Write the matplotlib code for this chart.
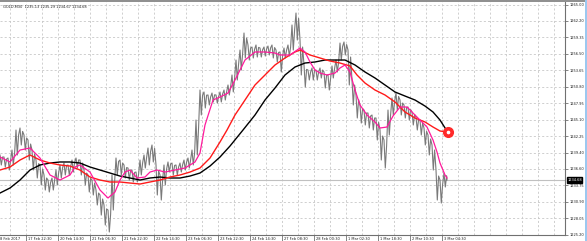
import numpy as np
import matplotlib
matplotlib.use("Agg")
import matplotlib.pyplot as plt
from matplotlib.transforms import blended_transform_factory
from matplotlib.patches import Rectangle

symbol_info = "GOLD,M30  1235.13 1235.29 1234.67 1234.68"
last_price = 1234.68

# price highs / lows, one pair per block of 4 bars (M30)
price_high = [1239.00, 1238.65, 1238.48, 1239.86, 1243.32, 1243.67, 1242.46, 1241.59, 1239.86, 1238.13,
              1237.27, 1235.54, 1234.67, 1235.02, 1236.40, 1237.27, 1237.61, 1237.27, 1238.13, 1238.48,
              1238.13, 1236.40, 1235.54, 1234.67, 1232.94, 1232.08, 1230.35, 1229.48, 1235.54, 1238.48,
              1238.13, 1237.27, 1236.75, 1236.40, 1236.05, 1238.13, 1239.00, 1240.21, 1240.73, 1237.27,
              1235.54, 1237.27, 1237.79, 1237.61, 1237.27, 1237.61, 1238.13, 1238.48, 1239.86, 1245.05,
              1250.24, 1249.90, 1249.38, 1249.72, 1249.38, 1249.90, 1250.24, 1251.11, 1252.84, 1255.43,
              1257.16, 1260.10, 1258.03, 1257.68, 1258.03, 1257.51, 1257.68, 1257.85, 1258.03, 1257.16,
              1256.82, 1257.51, 1258.03, 1261.49, 1263.56, 1258.89, 1254.57, 1253.70, 1254.05, 1253.70,
              1254.05, 1253.36, 1252.84, 1254.40, 1255.43, 1258.37, 1258.55, 1257.16, 1251.97, 1249.38,
              1247.65, 1246.78, 1246.26, 1245.92, 1245.40, 1243.32, 1241.59, 1246.78, 1248.86, 1249.72,
              1248.51, 1247.65, 1247.30, 1246.44, 1245.57, 1245.05, 1243.67, 1242.46, 1240.73, 1236.40,
              1234.67, 1235.88]
price_low = [1237.27, 1236.92, 1236.40, 1237.27, 1239.00, 1240.73, 1239.86, 1238.13, 1236.40, 1235.02,
             1233.81, 1232.94, 1232.60, 1232.94, 1233.81, 1235.02, 1235.54, 1235.54, 1236.05, 1236.75,
             1235.54, 1233.81, 1232.60, 1232.08, 1230.35, 1228.61, 1226.88, 1225.68, 1229.48, 1235.54,
             1235.54, 1235.02, 1234.67, 1234.33, 1234.33, 1235.54, 1236.75, 1237.27, 1237.79, 1232.08,
             1231.21, 1233.81, 1236.05, 1235.54, 1235.54, 1236.05, 1236.40, 1236.75, 1237.27, 1239.00,
             1245.92, 1247.13, 1247.65, 1248.17, 1247.99, 1248.17, 1248.51, 1249.38, 1249.90, 1251.97,
             1253.70, 1255.78, 1255.43, 1255.78, 1255.95, 1255.95, 1256.12, 1256.30, 1255.78, 1255.09,
             1253.36, 1255.78, 1256.12, 1257.16, 1258.89, 1252.84, 1250.76, 1251.97, 1251.97, 1251.97,
             1252.32, 1250.59, 1250.24, 1252.32, 1253.36, 1255.43, 1256.30, 1251.11, 1247.65, 1245.40,
             1244.53, 1244.19, 1243.67, 1243.32, 1241.59, 1238.13, 1236.75, 1242.46, 1245.92, 1246.78,
             1245.92, 1245.40, 1245.05, 1244.19, 1243.32, 1242.46, 1240.73, 1239.00, 1236.40, 1231.21,
             1230.69, 1233.46]

# moving averages (bar index, value)
fast_x = [0, 10, 20, 30, 40, 50, 60, 70, 75, 80, 90, 100, 108, 115, 120, 125, 130, 137, 145, 150,
          157, 165, 175, 185, 195, 200, 205, 213, 220, 228, 235, 245, 255, 265, 275, 280, 290, 300,
          305, 310, 315, 320, 327, 335, 340, 345, 350, 355, 360, 367, 375, 380, 387, 393, 400, 407,
          413, 420, 427, 433, 437, 440, 445, 447]
fast_ma = [1238.65, 1237.79, 1239.86, 1240.21, 1238.48, 1235.54, 1234.67, 1235.54, 1236.92, 1237.27,
           1236.05, 1232.94, 1231.56, 1232.60, 1234.67, 1236.05, 1236.40, 1235.02, 1235.19, 1236.05,
           1236.40, 1236.05, 1236.40, 1236.75, 1237.79, 1239.34, 1244.19, 1248.51, 1249.03, 1249.72,
           1251.97, 1255.43, 1256.82, 1256.82, 1256.64, 1256.30, 1256.30, 1257.51, 1256.82, 1255.09,
           1253.70, 1253.18, 1252.84, 1253.18, 1254.05, 1254.57, 1253.36, 1250.24, 1247.65, 1245.92,
           1244.71, 1243.67, 1243.84, 1245.74, 1247.30, 1247.30, 1246.26, 1245.05, 1243.84, 1241.59,
           1239.52, 1237.61, 1235.54, 1235.02]

mid_x = [0, 10, 20, 30, 40, 50, 60, 70, 80, 90, 100, 110, 120, 130, 140, 150, 160, 170, 180, 190,
         200, 210, 220, 227, 235, 245, 255, 265, 275, 285, 295, 300, 310, 320, 330, 340, 350, 357,
         365, 375, 385, 395, 405, 415, 425, 433, 440, 447]
mid_ma = [1236.40, 1236.92, 1238.13, 1239.00, 1238.13, 1237.61, 1237.27, 1237.09, 1236.40, 1235.19,
          1234.67, 1234.33, 1234.33, 1234.15, 1233.98, 1234.33, 1234.67, 1235.19, 1235.54, 1236.05,
          1236.75, 1238.48, 1241.25, 1243.32, 1245.92, 1248.51, 1251.11, 1252.84, 1254.57, 1255.78,
          1256.82, 1257.16, 1256.30, 1255.78, 1255.26, 1254.91, 1254.40, 1252.84, 1251.45, 1250.24,
          1249.38, 1248.17, 1246.44, 1245.40, 1244.71, 1243.84, 1243.15, 1242.98]

slow_x = [0, 10, 20, 30, 40, 50, 60, 70, 80, 90, 100, 110, 120, 130, 140, 150, 160, 170, 180, 190,
          200, 210, 220, 230, 243, 255, 265, 275, 285, 295, 305, 315, 325, 335, 345, 355, 365, 375,
          385, 395, 405, 415, 425, 433, 440, 447]
slow_ma = [1232.42, 1233.29, 1234.67, 1236.40, 1237.27, 1237.61, 1237.79, 1237.79, 1237.61, 1236.92,
           1236.40, 1235.88, 1235.36, 1235.02, 1234.67, 1235.02, 1235.19, 1235.02, 1235.02, 1235.36,
           1235.88, 1237.09, 1238.65, 1240.55, 1243.32, 1245.92, 1248.51, 1250.59, 1252.84, 1254.22,
           1254.91, 1255.09, 1255.43, 1255.43, 1255.43, 1254.57, 1253.36, 1252.32, 1251.11, 1249.90,
           1249.20, 1248.51, 1247.47, 1246.44, 1245.05, 1243.15]

signal_x = 448
signal_price = 1243.0

price_ticks = [1265.00, 1262.20, 1259.35, 1256.50, 1253.65, 1250.80, 1247.95, 1245.10,
               1242.25, 1239.40, 1236.60, 1233.75, 1230.90, 1228.05, 1225.20]
price_labels = ["1265.00", "1262.20", "1259.35", "1256.50", "1253.65", "1250.80", "1247.95", "1245.10",
                "1242.25", "1239.40", "1236.60", "1233.75", "1230.90", "1228.05", "1225.20"]

time_pos = [-1.5, 26, 58, 90, 122, 154, 186, 218, 250, 282, 314, 346, 378, 410, 442]
time_labels = ["8 Feb 2017", "17 Feb 22:30", "20 Feb 14:30", "21 Feb 06:30", "21 Feb 22:30",
               "22 Feb 14:30", "23 Feb 06:30", "23 Feb 22:30", "24 Feb 14:30", "27 Feb 08:30",
               "28 Feb 00:30", "1 Mar 02:30", "1 Mar 18:30", "2 Mar 10:30", "3 Mar 04:30"]

W, H = 587, 241
fig = plt.figure(figsize=(W / 100, H / 100), dpi=100)
fig.patch.set_facecolor("white")
ax = fig.add_axes([0, 6 / H, 565 / W, (240 - 6) / H])
ax.set_xlim(0, 565)
ax.set_ylim(1225.16, 1265.64)

FS = 2.9
FONT = dict(family="DejaVu Sans", stretch="condensed")
GRID = "#c8c8c8"

# grid
for gx in range(10, 565, 16):
    ax.axvline(gx, color=GRID, lw=0.6, ls=(0, (2.5, 2.5)), zorder=0)
for p in price_ticks:
    ax.axhline(p, color=GRID, lw=0.6, ls=(0, (2.5, 2.5)), zorder=0)
ax.axhline(last_price, color="#c0c0c0", lw=0.8, zorder=1)

# price (zig-zag between block high and low)
px, py = [], []
for i, (h, l) in enumerate(zip(price_high, price_low)):
    px += [4 * i, 4 * i + 1.3, 4 * i + 2.6]
    py += [h, l, (h + l) / 2 + (h - l) * 0.3]
px.append(447)
py.append(last_price)
ax.plot(px, py, color="#7a7a7a", lw=0.8, zorder=2)

ax.plot(slow_x, slow_ma, color="#000000", lw=1.0, zorder=3)
ax.plot(mid_x, mid_ma, color="#ff1a1a", lw=1.0, zorder=4)
ax.plot(fast_x, fast_ma, color="#ff1a9c", lw=0.9, zorder=5)
ax.plot([signal_x], [signal_price], "o", ms=7, mfc="#ff2a2a", mec="#ff2a2a", zorder=6)
ax.plot([signal_x], [signal_price], "o", ms=1.6, mfc="white", mec="white", zorder=7)

# axes styling
for s in ["left", "top"]:
    ax.spines[s].set_visible(False)
ax.spines["right"].set_color("#707070")
ax.spines["bottom"].set_color("#707070")
ax.spines["right"].set_linewidth(0.8)
ax.spines["bottom"].set_linewidth(0.8)
ax.set_xticks([])
ax.yaxis.tick_right()
ax.set_yticks(price_ticks)
ax.set_yticklabels(price_labels, fontdict=FONT)
ax.tick_params(axis="y", direction="out", length=2.0, width=0.6, color="#707070",
               labelsize=FS, pad=1.0, labelcolor="#202020")

trans = blended_transform_factory(ax.transData, ax.transAxes)
for pos, lab in zip(time_pos, time_labels):
    ax.plot([pos, pos], [0, -0.03], color="#707070", lw=0.6, transform=trans, clip_on=False)
    ax.text(pos + 1.5, -0.008, lab, transform=trans, ha="left", va="top",
            fontsize=FS, color="#202020", clip_on=False, **FONT)

transy = blended_transform_factory(ax.transAxes, ax.transData)
ax.text(1.004, last_price, "1234.68", transform=transy, ha="left", va="center",
        fontsize=FS, color="white", clip_on=False, **FONT,
        bbox=dict(boxstyle="square,pad=0.15", fc="black", ec="black"))

ax.text(3, 0.985, symbol_info, transform=blended_transform_factory(ax.transData, ax.transAxes),
        ha="left", va="top", fontsize=FS, color="#202020", **FONT)

# frame decorations
fig.patches.append(Rectangle((0, 239 / H), 1, 2 / H, transform=fig.transFigure,
                             fc="#909090", ec="none"))
fig.patches.append(Rectangle((584.5 / W, 0), 2.5 / W, 1, transform=fig.transFigure,
                             fc="#9cc8f0", ec="none"))

fig.savefig("out.png", dpi=100, facecolor="white")
